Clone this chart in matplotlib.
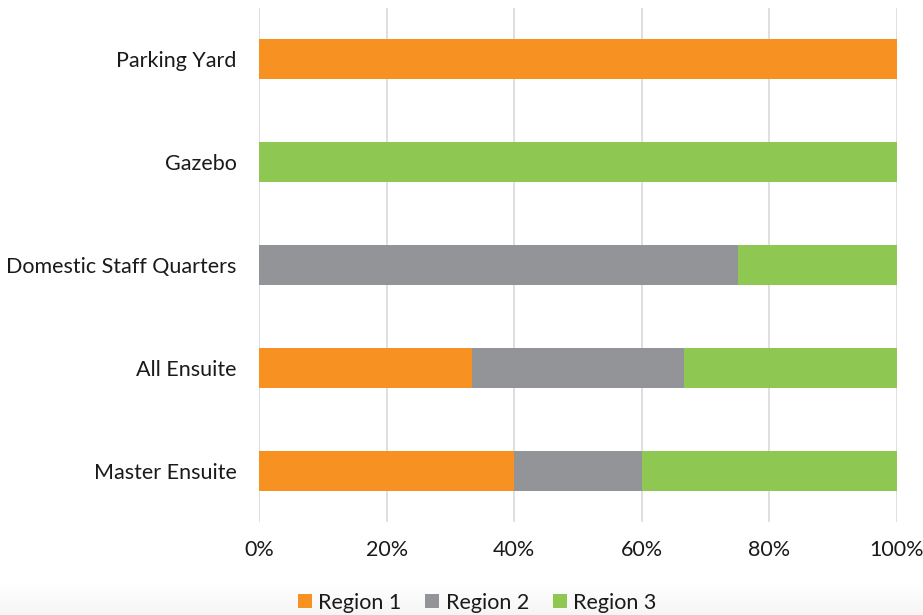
import numpy as np
import matplotlib
matplotlib.use("Agg")
import matplotlib.pyplot as plt
from matplotlib.ticker import PercentFormatter

# rooms listed bottom to top, counts per region
rooms = ["Master Ensuite", "All Ensuite", "Domestic Staff Quarters", "Gazebo", "Parking Yard"]
region1 = [2, 1, 0, 0, 1]
region2 = [1, 1, 3, 0, 0]
region3 = [2, 1, 1, 1, 0]
series_names = ["Region 1", "Region 2", "Region 3"]
colors = ["#f79122", "#929497", "#8fc753"]

plt.rcParams["font.family"] = ["Lato", "DejaVu Sans"]

fig = plt.figure(figsize=(9.23, 6.15), dpi=100)
ax = fig.add_axes([259 / 923, 1 - 522 / 615, 638 / 923, 514 / 615])

# faint haze along the bottom edge
bg = fig.add_axes([0, 0, 1, 32 / 615], zorder=-10)
grad = np.linspace(0, 1, 50).reshape(-1, 1)
bg.imshow(grad, aspect="auto", cmap="Greys", vmin=0, vmax=12, origin="upper",
          extent=[0, 1, 0, 1])
bg.axis("off")

data = np.array([region1, region2, region3], dtype=float)
shares = data / data.sum(axis=0) * 100
y = np.arange(len(rooms))
left = np.zeros(len(rooms))
for name, vals, col in zip(series_names, shares, colors):
    ax.barh(y, vals, left=left, height=0.39, color=col, label=name, zorder=3)
    left += vals

ax.set_xlim(0, 100)
ax.set_ylim(-0.5, len(rooms) - 0.5)
ax.set_xticks(np.arange(0, 101, 20))
ax.xaxis.set_major_formatter(PercentFormatter(decimals=0))
ax.set_yticks(y)
ax.set_yticklabels(rooms)
ax.grid(axis="x", color="#d9d9d9", linewidth=1.2, zorder=0)
ax.tick_params(axis="x", length=0, pad=13, labelsize=15.5, labelcolor="#1a1a1a")
ax.tick_params(axis="y", length=0, pad=16, labelsize=15.5, labelcolor="#1a1a1a")
for s in ax.spines.values():
    s.set_visible(False)
ax.set_facecolor("none")

fig.legend(loc="center", bbox_to_anchor=(0.517, 0.02), ncol=3, frameon=False,
           fontsize=15.5, handlelength=0.65, handleheight=0.65, handletextpad=0.3,
           columnspacing=1.1, labelcolor="#1a1a1a")

fig.savefig("out.png", dpi=100, facecolor="white")
